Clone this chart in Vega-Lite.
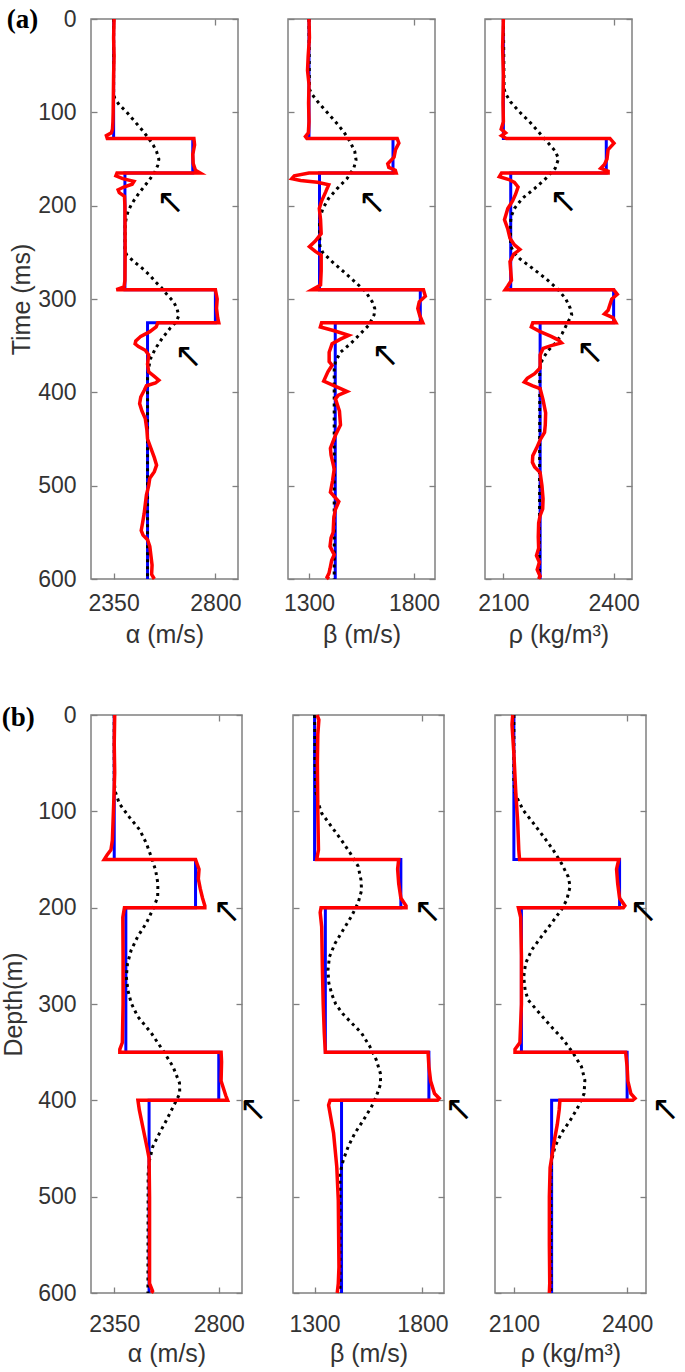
{
"$schema":"https://vega.github.io/schema/vega-lite/v6.json",
"padding":{"left":0,"top":5,"right":0,"bottom":0},
"config":{
 "font":"Liberation Sans",
 "view":{"stroke":"#808080","strokeWidth":1.5},
 "axis":{"domain":false,"grid":false,"tickColor":"#808080","tickSize":-6,"tickWidth":1.3,"labelFontSize":23,"labelColor":"#333333","titleFontSize":25,"titleColor":"#333333","titleFontWeight":"normal","labelFont":"Liberation Sans","titleFont":"Liberation Sans","format":"d"},
 "axisX":{"labelPadding":19,"titlePadding":7},
 "axisY":{"labelPadding":21,"titlePadding":3}
},
"datasets":{
 "a1_true":[{"t":0,"v":2350},{"t":128,"v":2350},{"t":128,"v":2700},{"t":165,"v":2700},{"t":165,"v":2400},{"t":290,"v":2400},{"t":290,"v":2800},{"t":325.5,"v":2800},{"t":325.5,"v":2500},{"t":600,"v":2500}],
 "a1_init":[{"t":0,"v":2350},{"t":80,"v":2350},{"t":85,"v":2355},{"t":92,"v":2375},{"t":99,"v":2405},{"t":106,"v":2430},{"t":113,"v":2455},{"t":120,"v":2480},{"t":128,"v":2505},{"t":135,"v":2525},{"t":142,"v":2540},{"t":150,"v":2550},{"t":157,"v":2545},{"t":164,"v":2532},{"t":171,"v":2512},{"t":178,"v":2490},{"t":185,"v":2467},{"t":192,"v":2446},{"t":199,"v":2428},{"t":206,"v":2414},{"t":213,"v":2406},{"t":220,"v":2401},{"t":248,"v":2400},{"t":253,"v":2408},{"t":260,"v":2440},{"t":267,"v":2476},{"t":274,"v":2508},{"t":282,"v":2537},{"t":288,"v":2562},{"t":295,"v":2585},{"t":303,"v":2615},{"t":310,"v":2630},{"t":318,"v":2638},{"t":325,"v":2625},{"t":331,"v":2601},{"t":342,"v":2565},{"t":353,"v":2535},{"t":364,"v":2513},{"t":374,"v":2505},{"t":385,"v":2500},{"t":600,"v":2500}],
 "a1_inv":[{"t":0,"v":2352},{"t":20,"v":2350},{"t":40,"v":2352},{"t":60,"v":2350},{"t":80,"v":2349},{"t":100,"v":2348},{"t":110,"v":2347},{"t":118,"v":2345},{"t":122,"v":2340},{"t":125,"v":2318},{"t":128,"v":2322},{"t":128,"v":2705},{"t":135,"v":2708},{"t":145,"v":2700},{"t":155,"v":2702},{"t":162,"v":2712},{"t":165,"v":2733},{"t":165,"v":2365},{"t":168,"v":2360},{"t":171,"v":2390},{"t":174,"v":2440},{"t":177,"v":2432},{"t":180,"v":2395},{"t":183,"v":2370},{"t":186,"v":2375},{"t":190,"v":2398},{"t":200,"v":2400},{"t":250,"v":2401},{"t":280,"v":2400},{"t":287,"v":2396},{"t":290,"v":2362},{"t":290,"v":2800},{"t":300,"v":2808},{"t":310,"v":2805},{"t":320,"v":2810},{"t":325.5,"v":2815},{"t":325.5,"v":2545},{"t":330,"v":2538},{"t":335,"v":2510},{"t":340,"v":2470},{"t":345,"v":2448},{"t":348,"v":2445},{"t":351,"v":2460},{"t":355,"v":2490},{"t":360,"v":2505},{"t":370,"v":2500},{"t":378,"v":2505},{"t":383,"v":2530},{"t":387,"v":2550},{"t":390,"v":2535},{"t":393,"v":2495},{"t":398,"v":2485},{"t":405,"v":2470},{"t":412,"v":2465},{"t":420,"v":2475},{"t":428,"v":2490},{"t":440,"v":2497},{"t":450,"v":2500},{"t":460,"v":2515},{"t":470,"v":2530},{"t":478,"v":2540},{"t":485,"v":2530},{"t":492,"v":2510},{"t":500,"v":2505},{"t":510,"v":2495},{"t":520,"v":2490},{"t":530,"v":2485},{"t":540,"v":2478},{"t":548,"v":2472},{"t":553,"v":2480},{"t":558,"v":2500},{"t":565,"v":2510},{"t":575,"v":2515},{"t":585,"v":2520},{"t":595,"v":2518},{"t":600,"v":2530}],
 "a2_true":[{"t":0,"v":1300},{"t":128,"v":1300},{"t":128,"v":1700},{"t":165,"v":1700},{"t":165,"v":1350},{"t":290,"v":1350},{"t":290,"v":1830},{"t":325.5,"v":1830},{"t":325.5,"v":1425},{"t":600,"v":1425}],
 "a2_init":[{"t":0,"v":1300},{"t":75,"v":1302},{"t":80,"v":1312},{"t":89,"v":1343},{"t":100,"v":1386},{"t":110,"v":1426},{"t":121,"v":1466},{"t":132,"v":1497},{"t":142,"v":1518},{"t":151,"v":1524},{"t":160,"v":1513},{"t":171,"v":1481},{"t":182,"v":1433},{"t":192,"v":1394},{"t":203,"v":1366},{"t":212,"v":1354},{"t":220,"v":1350},{"t":243,"v":1352},{"t":250,"v":1365},{"t":260,"v":1410},{"t":271,"v":1466},{"t":282,"v":1521},{"t":292,"v":1569},{"t":303,"v":1601},{"t":310,"v":1613},{"t":317,"v":1610},{"t":328,"v":1585},{"t":339,"v":1537},{"t":348,"v":1497},{"t":357,"v":1450},{"t":367,"v":1426},{"t":375,"v":1420},{"t":600,"v":1420}],
 "a2_inv":[{"t":0,"v":1300},{"t":20,"v":1302},{"t":40,"v":1296},{"t":55,"v":1293},{"t":70,"v":1300},{"t":90,"v":1298},{"t":110,"v":1300},{"t":122,"v":1297},{"t":126,"v":1283},{"t":128,"v":1290},{"t":128,"v":1720},{"t":133,"v":1728},{"t":140,"v":1712},{"t":148,"v":1705},{"t":155,"v":1675},{"t":159,"v":1680},{"t":162,"v":1711},{"t":165,"v":1715},{"t":165,"v":1300},{"t":168,"v":1230},{"t":171,"v":1218},{"t":173,"v":1260},{"t":175,"v":1340},{"t":177.5,"v":1394},{"t":185,"v":1380},{"t":195,"v":1360},{"t":203,"v":1349},{"t":215,"v":1355},{"t":230,"v":1358},{"t":238,"v":1330},{"t":244,"v":1302},{"t":249,"v":1330},{"t":253,"v":1358},{"t":270,"v":1358},{"t":285,"v":1355},{"t":290,"v":1315},{"t":290,"v":1845},{"t":297,"v":1854},{"t":303,"v":1825},{"t":310,"v":1818},{"t":318,"v":1828},{"t":325.5,"v":1842},{"t":325.5,"v":1360},{"t":330,"v":1354},{"t":334,"v":1420},{"t":339,"v":1489},{"t":343,"v":1450},{"t":348,"v":1410},{"t":357,"v":1396},{"t":367,"v":1396},{"t":371,"v":1410},{"t":378,"v":1390},{"t":388,"v":1370},{"t":395,"v":1440},{"t":399,"v":1481},{"t":403,"v":1440},{"t":407,"v":1426},{"t":420,"v":1445},{"t":435,"v":1450},{"t":446,"v":1426},{"t":460,"v":1402},{"t":467,"v":1405},{"t":482,"v":1420},{"t":495,"v":1412},{"t":507,"v":1402},{"t":517,"v":1442},{"t":526,"v":1425},{"t":535,"v":1418},{"t":550,"v":1415},{"t":556,"v":1405},{"t":565,"v":1400},{"t":574,"v":1420},{"t":580,"v":1408},{"t":589,"v":1400},{"t":594,"v":1395},{"t":598,"v":1386},{"t":600,"v":1395}],
 "a3_true":[{"t":0,"v":2100},{"t":128,"v":2100},{"t":128,"v":2380},{"t":165,"v":2380},{"t":165,"v":2120},{"t":290,"v":2120},{"t":290,"v":2400},{"t":325.5,"v":2400},{"t":325.5,"v":2200},{"t":600,"v":2200}],
 "a3_init":[{"t":0,"v":2100},{"t":75,"v":2102},{"t":80,"v":2106},{"t":89,"v":2120},{"t":100,"v":2145},{"t":110,"v":2171},{"t":121,"v":2196},{"t":132,"v":2220},{"t":142,"v":2242},{"t":150,"v":2250},{"t":160,"v":2241},{"t":171,"v":2215},{"t":182,"v":2184},{"t":192,"v":2152},{"t":203,"v":2130},{"t":212,"v":2121},{"t":220,"v":2119},{"t":243,"v":2120},{"t":250,"v":2128},{"t":257,"v":2145},{"t":267,"v":2179},{"t":278,"v":2215},{"t":289,"v":2247},{"t":300,"v":2270},{"t":310,"v":2282},{"t":317,"v":2286},{"t":326,"v":2274},{"t":337,"v":2260},{"t":347,"v":2242},{"t":356,"v":2220},{"t":365,"v":2206},{"t":374,"v":2199},{"t":600,"v":2198}],
 "a3_inv":[{"t":0,"v":2100},{"t":30,"v":2098},{"t":60,"v":2100},{"t":90,"v":2099},{"t":110,"v":2100},{"t":118,"v":2094},{"t":122,"v":2106},{"t":125,"v":2095},{"t":128,"v":2108},{"t":128,"v":2390},{"t":133,"v":2401},{"t":140,"v":2385},{"t":150,"v":2382},{"t":156,"v":2375},{"t":160,"v":2365},{"t":163,"v":2385},{"t":165,"v":2385},{"t":165,"v":2095},{"t":169,"v":2089},{"t":172,"v":2115},{"t":175,"v":2130},{"t":180,"v":2140},{"t":188,"v":2133},{"t":195,"v":2125},{"t":203,"v":2112},{"t":215,"v":2103},{"t":225,"v":2112},{"t":235,"v":2118},{"t":242,"v":2130},{"t":247,"v":2145},{"t":252,"v":2128},{"t":260,"v":2118},{"t":270,"v":2120},{"t":280,"v":2122},{"t":286,"v":2112},{"t":290,"v":2105},{"t":290,"v":2400},{"t":295,"v":2410},{"t":300,"v":2395},{"t":306,"v":2390},{"t":312,"v":2385},{"t":316,"v":2375},{"t":320,"v":2398},{"t":325.5,"v":2406},{"t":325.5,"v":2180},{"t":330,"v":2176},{"t":335,"v":2200},{"t":340,"v":2230},{"t":344,"v":2250},{"t":347,"v":2258},{"t":350,"v":2230},{"t":353,"v":2208},{"t":360,"v":2200},{"t":374,"v":2200},{"t":380,"v":2185},{"t":385,"v":2165},{"t":389,"v":2157},{"t":393,"v":2180},{"t":396,"v":2200},{"t":408,"v":2208},{"t":422,"v":2215},{"t":435,"v":2214},{"t":443,"v":2212},{"t":451,"v":2200},{"t":460,"v":2190},{"t":468,"v":2180},{"t":475,"v":2179},{"t":480,"v":2185},{"t":486,"v":2200},{"t":500,"v":2205},{"t":514,"v":2208},{"t":525,"v":2207},{"t":532,"v":2200},{"t":540,"v":2196},{"t":555,"v":2195},{"t":567,"v":2196},{"t":575,"v":2190},{"t":582,"v":2198},{"t":590,"v":2192},{"t":597,"v":2200},{"t":600,"v":2196}],
 "b1_true":[{"t":0,"v":2350},{"t":150,"v":2350},{"t":150,"v":2700},{"t":200,"v":2700},{"t":200,"v":2400},{"t":350,"v":2400},{"t":350,"v":2800},{"t":400,"v":2800},{"t":400,"v":2500},{"t":600,"v":2500}],
 "b1_init":[{"t":0,"v":2350},{"t":70,"v":2350},{"t":80,"v":2355},{"t":92,"v":2372},{"t":106,"v":2415},{"t":119,"v":2459},{"t":133,"v":2488},{"t":147,"v":2509},{"t":161,"v":2528},{"t":175,"v":2538},{"t":189,"v":2537},{"t":202,"v":2516},{"t":216,"v":2488},{"t":230,"v":2451},{"t":244,"v":2423},{"t":258,"v":2407},{"t":272,"v":2402},{"t":286,"v":2409},{"t":299,"v":2423},{"t":313,"v":2451},{"t":330,"v":2509},{"t":348,"v":2559},{"t":365,"v":2603},{"t":382,"v":2631},{"t":393,"v":2632},{"t":407,"v":2603},{"t":421,"v":2574},{"t":434,"v":2545},{"t":448,"v":2516},{"t":462,"v":2502},{"t":476,"v":2496},{"t":600,"v":2495}],
 "b1_inv":[{"t":0,"v":2352},{"t":30,"v":2350},{"t":60,"v":2352},{"t":90,"v":2348},{"t":110,"v":2345},{"t":130,"v":2342},{"t":140,"v":2336},{"t":145,"v":2320},{"t":150,"v":2307},{"t":150,"v":2700},{"t":160,"v":2715},{"t":170,"v":2712},{"t":180,"v":2720},{"t":190,"v":2730},{"t":198,"v":2740},{"t":200,"v":2740},{"t":200,"v":2394},{"t":210,"v":2387},{"t":250,"v":2388},{"t":300,"v":2388},{"t":340,"v":2385},{"t":347,"v":2374},{"t":350,"v":2374},{"t":350,"v":2810},{"t":360,"v":2812},{"t":380,"v":2810},{"t":395,"v":2830},{"t":400,"v":2838},{"t":400,"v":2452},{"t":410,"v":2458},{"t":430,"v":2475},{"t":450,"v":2492},{"t":460,"v":2500},{"t":500,"v":2502},{"t":550,"v":2502},{"t":590,"v":2502},{"t":598,"v":2515},{"t":600,"v":2510}],
 "b2_true":[{"t":0,"v":1300},{"t":150,"v":1300},{"t":150,"v":1700},{"t":200,"v":1700},{"t":200,"v":1350},{"t":350,"v":1350},{"t":350,"v":1830},{"t":400,"v":1830},{"t":400,"v":1425},{"t":600,"v":1425}],
 "b2_init":[{"t":0,"v":1300},{"t":50,"v":1302},{"t":80,"v":1306},{"t":90,"v":1315},{"t":102,"v":1333},{"t":116,"v":1379},{"t":130,"v":1425},{"t":144,"v":1467},{"t":157,"v":1502},{"t":171,"v":1515},{"t":182,"v":1518},{"t":195,"v":1502},{"t":209,"v":1471},{"t":223,"v":1433},{"t":237,"v":1395},{"t":251,"v":1369},{"t":265,"v":1362},{"t":278,"v":1366},{"t":290,"v":1380},{"t":300,"v":1398},{"t":310,"v":1430},{"t":317,"v":1460},{"t":330,"v":1517},{"t":344,"v":1556},{"t":358,"v":1586},{"t":372,"v":1605},{"t":383,"v":1606},{"t":396,"v":1586},{"t":407,"v":1563},{"t":421,"v":1525},{"t":434,"v":1487},{"t":448,"v":1456},{"t":462,"v":1433},{"t":476,"v":1418},{"t":600,"v":1418}],
 "b2_inv":[{"t":0,"v":1312},{"t":5,"v":1320},{"t":20,"v":1315},{"t":50,"v":1313},{"t":100,"v":1315},{"t":140,"v":1318},{"t":150,"v":1310},{"t":150,"v":1690},{"t":160,"v":1685},{"t":175,"v":1690},{"t":190,"v":1700},{"t":198,"v":1724},{"t":200,"v":1724},{"t":200,"v":1330},{"t":205,"v":1326},{"t":220,"v":1333},{"t":260,"v":1336},{"t":300,"v":1340},{"t":330,"v":1345},{"t":350,"v":1350},{"t":350,"v":1826},{"t":365,"v":1830},{"t":380,"v":1838},{"t":393,"v":1856},{"t":398,"v":1878},{"t":400,"v":1870},{"t":400,"v":1372},{"t":405,"v":1365},{"t":434,"v":1388},{"t":469,"v":1403},{"t":504,"v":1410},{"t":573,"v":1413},{"t":590,"v":1410},{"t":600,"v":1405}],
 "b3_true":[{"t":0,"v":2100},{"t":150,"v":2100},{"t":150,"v":2380},{"t":200,"v":2380},{"t":200,"v":2120},{"t":350,"v":2120},{"t":350,"v":2400},{"t":400,"v":2400},{"t":400,"v":2200},{"t":600,"v":2200}],
 "b3_init":[{"t":0,"v":2100},{"t":70,"v":2100},{"t":80,"v":2103},{"t":85,"v":2107},{"t":99,"v":2125},{"t":112,"v":2151},{"t":126,"v":2178},{"t":140,"v":2204},{"t":154,"v":2226},{"t":168,"v":2244},{"t":178,"v":2249},{"t":192,"v":2240},{"t":202,"v":2226},{"t":216,"v":2200},{"t":230,"v":2173},{"t":244,"v":2147},{"t":258,"v":2131},{"t":272,"v":2126},{"t":286,"v":2130},{"t":296,"v":2138},{"t":310,"v":2169},{"t":324,"v":2200},{"t":337,"v":2231},{"t":351,"v":2257},{"t":365,"v":2279},{"t":379,"v":2288},{"t":393,"v":2286},{"t":407,"v":2270},{"t":421,"v":2249},{"t":434,"v":2226},{"t":448,"v":2209},{"t":462,"v":2200},{"t":476,"v":2198},{"t":600,"v":2198}],
 "b3_inv":[{"t":0,"v":2097},{"t":10,"v":2095},{"t":40,"v":2100},{"t":80,"v":2105},{"t":110,"v":2110},{"t":140,"v":2113},{"t":150,"v":2115},{"t":150,"v":2378},{"t":160,"v":2372},{"t":175,"v":2375},{"t":190,"v":2380},{"t":198,"v":2394},{"t":200,"v":2390},{"t":200,"v":2112},{"t":210,"v":2118},{"t":250,"v":2120},{"t":300,"v":2120},{"t":340,"v":2116},{"t":347,"v":2103},{"t":350,"v":2103},{"t":350,"v":2396},{"t":365,"v":2400},{"t":380,"v":2402},{"t":393,"v":2410},{"t":398,"v":2421},{"t":400,"v":2415},{"t":400,"v":2222},{"t":410,"v":2220},{"t":425,"v":2215},{"t":440,"v":2208},{"t":455,"v":2202},{"t":470,"v":2196},{"t":500,"v":2194},{"t":550,"v":2194},{"t":590,"v":2195},{"t":600,"v":2194}]
},
"concat":[
{"hconcat":[
 {"width":147,"height":560,"layer":[
  {"data":{"name":"a1_true"},"mark":{"type":"line","color":"#0000ff","strokeWidth":3},"encoding":{"x":{"field":"v","type":"quantitative","scale":{"domain":[2250,2900],"nice":false,"zero":false},"axis":{"orient":"bottom","values":[2350,2800],"title":"α (m/s)"}},"y":{"field":"t","type":"quantitative","scale":{"domain":[0,600],"reverse":true,"nice":false},"axis":{"orient":"left","values":[0,100,200,300,400,500,600],"title":"Time (ms)","titlePadding":3}},"order":{"value":null}}},
  {"data":{"name":"a1_init"},"mark":{"type":"line","color":"#000000","strokeWidth":3,"strokeDash":[3,4]},"encoding":{"x":{"field":"v","type":"quantitative","scale":{"domain":[2250,2900],"nice":false,"zero":false},"axis":{"orient":"top","values":[2350,2800],"labels":false,"title":null}},"y":{"field":"t","type":"quantitative","scale":{"domain":[0,600],"reverse":true,"nice":false},"axis":{"orient":"right","values":[0,100,200,300,400,500,600],"labels":false,"title":null}},"order":{"value":null}}},
  {"data":{"name":"a1_inv"},"mark":{"type":"line","color":"#ff0000","strokeWidth":3.5},"encoding":{"x":{"field":"v","type":"quantitative","scale":{"domain":[2250,2900],"nice":false,"zero":false},"axis":null},"y":{"field":"t","type":"quantitative","scale":{"domain":[0,600],"reverse":true,"nice":false},"axis":null},"order":{"value":null}}},
  {"data":{"values":[{"v":2600,"t":197,"s":"↖"},{"v":2680,"t":362,"s":"↖"}]},"mark":{"type":"text","align":"center","baseline":"middle","font":"DejaVu Sans","fontSize":34},"encoding":{"x":{"field":"v","type":"quantitative","scale":{"domain":[2250,2900],"nice":false,"zero":false},"axis":null},"y":{"field":"t","type":"quantitative","scale":{"domain":[0,600],"reverse":true,"nice":false},"axis":null},"text":{"field":"s"}}},
  {"data":{"values":[{"v":1878,"t":1,"s":"(a)"}]},"mark":{"type":"text","align":"left","baseline":"middle","font":"Liberation Serif","fontWeight":"bold","fontSize":27},"encoding":{"x":{"field":"v","type":"quantitative","scale":{"domain":[2250,2900],"nice":false,"zero":false},"axis":null},"y":{"field":"t","type":"quantitative","scale":{"domain":[0,600],"reverse":true,"nice":false},"axis":null},"text":{"field":"s"}}}
 ],"resolve":{"axis":{"x":"independent","y":"independent"}}},
 {"width":147,"height":560,"layer":[
  {"data":{"name":"a2_true"},"mark":{"type":"line","color":"#0000ff","strokeWidth":3},"encoding":{"x":{"field":"v","type":"quantitative","scale":{"domain":[1200,1900],"nice":false,"zero":false},"axis":{"orient":"bottom","values":[1300,1800],"title":"β (m/s)"}},"y":{"field":"t","type":"quantitative","scale":{"domain":[0,600],"reverse":true,"nice":false},"axis":{"orient":"left","values":[0,100,200,300,400,500,600],"labels":false,"title":null}},"order":{"value":null}}},
  {"data":{"name":"a2_init"},"mark":{"type":"line","color":"#000000","strokeWidth":3,"strokeDash":[3,4]},"encoding":{"x":{"field":"v","type":"quantitative","scale":{"domain":[1200,1900],"nice":false,"zero":false},"axis":{"orient":"top","values":[1300,1800],"labels":false,"title":null}},"y":{"field":"t","type":"quantitative","scale":{"domain":[0,600],"reverse":true,"nice":false},"axis":{"orient":"right","values":[0,100,200,300,400,500,600],"labels":false,"title":null}},"order":{"value":null}}},
  {"data":{"name":"a2_inv"},"mark":{"type":"line","color":"#ff0000","strokeWidth":3.5},"encoding":{"x":{"field":"v","type":"quantitative","scale":{"domain":[1200,1900],"nice":false,"zero":false},"axis":null},"y":{"field":"t","type":"quantitative","scale":{"domain":[0,600],"reverse":true,"nice":false},"axis":null},"order":{"value":null}}},
  {"data":{"values":[{"v":1600,"t":197,"s":"↖"},{"v":1663,"t":361,"s":"↖"}]},"mark":{"type":"text","align":"center","baseline":"middle","font":"DejaVu Sans","fontSize":34},"encoding":{"x":{"field":"v","type":"quantitative","scale":{"domain":[1200,1900],"nice":false,"zero":false},"axis":null},"y":{"field":"t","type":"quantitative","scale":{"domain":[0,600],"reverse":true,"nice":false},"axis":null},"text":{"field":"s"}}}
 ],"resolve":{"axis":{"x":"independent","y":"independent"}}},
 {"width":147,"height":560,"layer":[
  {"data":{"name":"a3_true"},"mark":{"type":"line","color":"#0000ff","strokeWidth":3},"encoding":{"x":{"field":"v","type":"quantitative","scale":{"domain":[2050,2450],"nice":false,"zero":false},"axis":{"orient":"bottom","values":[2100,2400],"title":"ρ (kg/m³)"}},"y":{"field":"t","type":"quantitative","scale":{"domain":[0,600],"reverse":true,"nice":false},"axis":{"orient":"left","values":[0,100,200,300,400,500,600],"labels":false,"title":null}},"order":{"value":null}}},
  {"data":{"name":"a3_init"},"mark":{"type":"line","color":"#000000","strokeWidth":3,"strokeDash":[3,4]},"encoding":{"x":{"field":"v","type":"quantitative","scale":{"domain":[2050,2450],"nice":false,"zero":false},"axis":{"orient":"top","values":[2100,2400],"labels":false,"title":null}},"y":{"field":"t","type":"quantitative","scale":{"domain":[0,600],"reverse":true,"nice":false},"axis":{"orient":"right","values":[0,100,200,300,400,500,600],"labels":false,"title":null}},"order":{"value":null}}},
  {"data":{"name":"a3_inv"},"mark":{"type":"line","color":"#ff0000","strokeWidth":3.5},"encoding":{"x":{"field":"v","type":"quantitative","scale":{"domain":[2050,2450],"nice":false,"zero":false},"axis":null},"y":{"field":"t","type":"quantitative","scale":{"domain":[0,600],"reverse":true,"nice":false},"axis":null},"order":{"value":null}}},
  {"data":{"values":[{"v":2263,"t":196,"s":"↖"},{"v":2336,"t":358,"s":"↖"}]},"mark":{"type":"text","align":"center","baseline":"middle","font":"DejaVu Sans","fontSize":34},"encoding":{"x":{"field":"v","type":"quantitative","scale":{"domain":[2050,2450],"nice":false,"zero":false},"axis":null},"y":{"field":"t","type":"quantitative","scale":{"domain":[0,600],"reverse":true,"nice":false},"axis":null},"text":{"field":"s"}}}
 ],"resolve":{"axis":{"x":"independent","y":"independent"}}}
],"bounds":"flush","spacing":50},
{"hconcat":[
 {"width":151,"height":578,"layer":[
  {"data":{"name":"b1_true"},"mark":{"type":"line","color":"#0000ff","strokeWidth":3},"encoding":{"x":{"field":"v","type":"quantitative","scale":{"domain":[2250,2900],"nice":false,"zero":false},"axis":{"orient":"bottom","values":[2350,2800],"title":"α (m/s)","labelPadding":26,"titlePadding":5}},"y":{"field":"t","type":"quantitative","scale":{"domain":[0,600],"reverse":true,"nice":false},"axis":{"orient":"left","values":[0,100,200,300,400,500,600],"title":"Depth(m)","titlePadding":11}},"order":{"value":null}}},
  {"data":{"name":"b1_init"},"mark":{"type":"line","color":"#000000","strokeWidth":3,"strokeDash":[3,4]},"encoding":{"x":{"field":"v","type":"quantitative","scale":{"domain":[2250,2900],"nice":false,"zero":false},"axis":{"orient":"top","values":[2350,2800],"labels":false,"title":null}},"y":{"field":"t","type":"quantitative","scale":{"domain":[0,600],"reverse":true,"nice":false},"axis":{"orient":"right","values":[0,100,200,300,400,500,600],"labels":false,"title":null}},"order":{"value":null}}},
  {"data":{"name":"b1_inv"},"mark":{"type":"line","color":"#ff0000","strokeWidth":3.5},"encoding":{"x":{"field":"v","type":"quantitative","scale":{"domain":[2250,2900],"nice":false,"zero":false},"axis":null},"y":{"field":"t","type":"quantitative","scale":{"domain":[0,600],"reverse":true,"nice":false},"axis":null},"order":{"value":null}}},
  {"data":{"values":[{"v":2834,"t":205,"s":"↖"},{"v":2947,"t":410,"s":"↖"}]},"mark":{"type":"text","align":"center","baseline":"middle","font":"DejaVu Sans","fontSize":34},"encoding":{"x":{"field":"v","type":"quantitative","scale":{"domain":[2250,2900],"nice":false,"zero":false},"axis":null},"y":{"field":"t","type":"quantitative","scale":{"domain":[0,600],"reverse":true,"nice":false},"axis":null},"text":{"field":"s"}}},
  {"data":{"values":[{"v":1866,"t":3,"s":"(b)"}]},"mark":{"type":"text","align":"left","baseline":"middle","font":"Liberation Serif","fontWeight":"bold","fontSize":27},"encoding":{"x":{"field":"v","type":"quantitative","scale":{"domain":[2250,2900],"nice":false,"zero":false},"axis":null},"y":{"field":"t","type":"quantitative","scale":{"domain":[0,600],"reverse":true,"nice":false},"axis":null},"text":{"field":"s"}}}
 ],"resolve":{"axis":{"x":"independent","y":"independent"}}},
 {"width":151,"height":578,"layer":[
  {"data":{"name":"b2_true"},"mark":{"type":"line","color":"#0000ff","strokeWidth":3},"encoding":{"x":{"field":"v","type":"quantitative","scale":{"domain":[1200,1900],"nice":false,"zero":false},"axis":{"orient":"bottom","values":[1300,1800],"title":"β (m/s)","labelPadding":26,"titlePadding":5}},"y":{"field":"t","type":"quantitative","scale":{"domain":[0,600],"reverse":true,"nice":false},"axis":{"orient":"left","values":[0,100,200,300,400,500,600],"labels":false,"title":null}},"order":{"value":null}}},
  {"data":{"name":"b2_init"},"mark":{"type":"line","color":"#000000","strokeWidth":3,"strokeDash":[3,4]},"encoding":{"x":{"field":"v","type":"quantitative","scale":{"domain":[1200,1900],"nice":false,"zero":false},"axis":{"orient":"top","values":[1300,1800],"labels":false,"title":null}},"y":{"field":"t","type":"quantitative","scale":{"domain":[0,600],"reverse":true,"nice":false},"axis":{"orient":"right","values":[0,100,200,300,400,500,600],"labels":false,"title":null}},"order":{"value":null}}},
  {"data":{"name":"b2_inv"},"mark":{"type":"line","color":"#ff0000","strokeWidth":3.5},"encoding":{"x":{"field":"v","type":"quantitative","scale":{"domain":[1200,1900],"nice":false,"zero":false},"axis":null},"y":{"field":"t","type":"quantitative","scale":{"domain":[0,600],"reverse":true,"nice":false},"axis":null},"order":{"value":null}}},
  {"data":{"values":[{"v":1824,"t":205,"s":"↖"},{"v":1967,"t":410,"s":"↖"}]},"mark":{"type":"text","align":"center","baseline":"middle","font":"DejaVu Sans","fontSize":34},"encoding":{"x":{"field":"v","type":"quantitative","scale":{"domain":[1200,1900],"nice":false,"zero":false},"axis":null},"y":{"field":"t","type":"quantitative","scale":{"domain":[0,600],"reverse":true,"nice":false},"axis":null},"text":{"field":"s"}}}
 ],"resolve":{"axis":{"x":"independent","y":"independent"}}},
 {"width":151,"height":578,"layer":[
  {"data":{"name":"b3_true"},"mark":{"type":"line","color":"#0000ff","strokeWidth":3},"encoding":{"x":{"field":"v","type":"quantitative","scale":{"domain":[2050,2450],"nice":false,"zero":false},"axis":{"orient":"bottom","values":[2100,2400],"title":"ρ (kg/m³)","labelPadding":26,"titlePadding":5}},"y":{"field":"t","type":"quantitative","scale":{"domain":[0,600],"reverse":true,"nice":false},"axis":{"orient":"left","values":[0,100,200,300,400,500,600],"labels":false,"title":null}},"order":{"value":null}}},
  {"data":{"name":"b3_init"},"mark":{"type":"line","color":"#000000","strokeWidth":3,"strokeDash":[3,4]},"encoding":{"x":{"field":"v","type":"quantitative","scale":{"domain":[2050,2450],"nice":false,"zero":false},"axis":{"orient":"top","values":[2100,2400],"labels":false,"title":null}},"y":{"field":"t","type":"quantitative","scale":{"domain":[0,600],"reverse":true,"nice":false},"axis":{"orient":"right","values":[0,100,200,300,400,500,600],"labels":false,"title":null}},"order":{"value":null}}},
  {"data":{"name":"b3_inv"},"mark":{"type":"line","color":"#ff0000","strokeWidth":3.5},"encoding":{"x":{"field":"v","type":"quantitative","scale":{"domain":[2050,2450],"nice":false,"zero":false},"axis":null},"y":{"field":"t","type":"quantitative","scale":{"domain":[0,600],"reverse":true,"nice":false},"axis":null},"order":{"value":null}}},
  {"data":{"values":[{"v":2443,"t":205,"s":"↖"},{"v":2501,"t":410,"s":"↖"}]},"mark":{"type":"text","align":"center","baseline":"middle","font":"DejaVu Sans","fontSize":34},"encoding":{"x":{"field":"v","type":"quantitative","scale":{"domain":[2050,2450],"nice":false,"zero":false},"axis":null},"y":{"field":"t","type":"quantitative","scale":{"domain":[0,600],"reverse":true,"nice":false},"axis":null},"text":{"field":"s"}}}
 ],"resolve":{"axis":{"x":"independent","y":"independent"}}}
],"bounds":"flush","spacing":51}
],
"columns":1,
"align":"none",
"spacing":55
}
